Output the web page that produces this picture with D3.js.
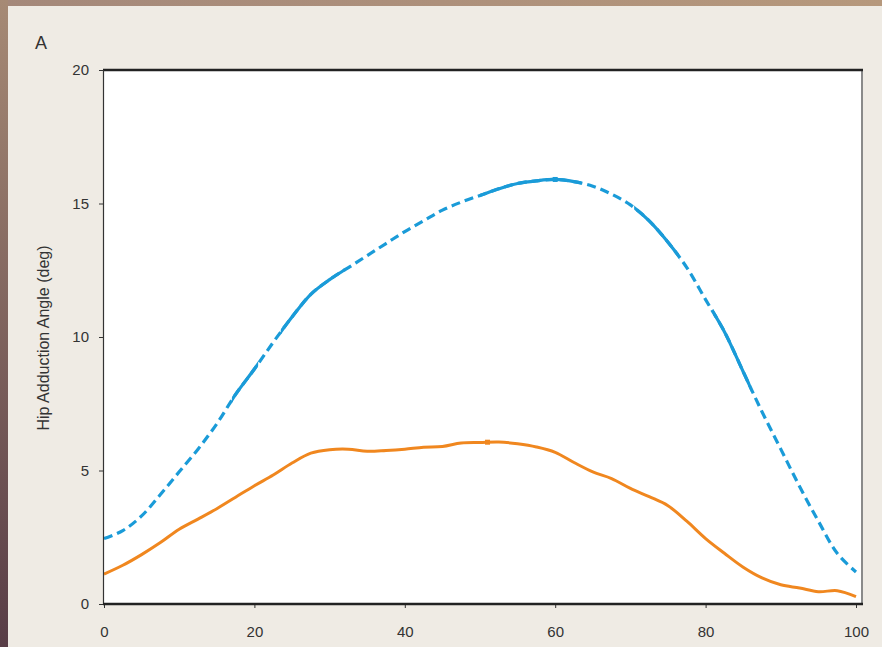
<!DOCTYPE html>
<html>
<head>
<meta charset="utf-8">
<script src="https://cdn.jsdelivr.net/npm/d3@7"></script>
<style>
  html, body { margin: 0; padding: 0; background: #efebe4; }
  svg { display: block; }
</style>
</head>
<body>
<svg id="chart" width="882" height="647"></svg>
<script>
// ---- data ----
const gaitCycle = [0, 2.5, 5, 7.5, 10, 12.5, 15, 17.5, 20, 22.5, 25, 27.5, 30, 32.5, 35, 37.5, 40, 42.5, 45, 47.5, 50,
                   52.5, 55, 57.5, 60, 62.5, 65, 67.5, 70, 72.5, 75, 77.5, 80, 82.5, 85, 87.5, 90, 92.5, 95, 97.5, 100];
const blueSeries = [2.45, 2.75, 3.3, 4.1, 4.95, 5.8, 6.75, 7.85, 8.8, 9.8, 10.75, 11.6, 12.15, 12.6, 13.05, 13.5, 13.95, 14.35, 14.75, 15.05, 15.3,
                    15.55, 15.75, 15.85, 15.9, 15.82, 15.65, 15.35, 14.95, 14.35, 13.55, 12.6, 11.4, 10.2, 8.7, 7.2, 5.8, 4.4, 3.1, 1.9, 1.2];
const orangeSeries = [1.12, 1.45, 1.85, 2.3, 2.8, 3.18, 3.57, 4.0, 4.43, 4.83, 5.28, 5.65, 5.78, 5.8, 5.72, 5.75, 5.8, 5.87, 5.9, 6.03, 6.05,
                      6.07, 6.0, 5.88, 5.68, 5.3, 4.95, 4.7, 4.33, 4.02, 3.68, 3.1, 2.45, 1.9, 1.38, 0.98, 0.72, 0.6, 0.46, 0.5, 0.28];
const blueSolidRanges = [[17, 20.5], [23.5, 32], [50, 63.5], [70.5, 76.5], [81, 86]];
const peakMarkers = [{x: 60, y: 15.9, s: "blue"}, {x: 51, y: 6.06, s: "orange"}];
const yTicks = [0, 5, 10, 15, 20];
const xTicks = [0, 20, 40, 60, 80, 100];
const yLabel = "Hip Adduction Angle (deg)";
const panelLabel = "A";

// ---- layout ----
const svg = d3.select("#chart");
const W = 882, H = 647;
const plot = {left: 103, right: 862, top: 70, bottom: 604};
const colors = {blue: "#1a9bd8", orange: "#f0871f"};
const font = "'Liberation Sans Narrow', 'Liberation Sans', Arial, sans-serif";

// frame decorations
const defs = svg.append("defs");
const lg = defs.append("linearGradient").attr("id", "leftGrad").attr("x1", 0).attr("y1", 0).attr("x2", 0).attr("y2", 1);
lg.append("stop").attr("offset", "0%").attr("stop-color", "#a68a75");
lg.append("stop").attr("offset", "100%").attr("stop-color", "#583d46");
const tg = defs.append("linearGradient").attr("id", "topGrad").attr("x1", 0).attr("y1", 0).attr("x2", 1).attr("y2", 0);
tg.append("stop").attr("offset", "0%").attr("stop-color", "#a4887a");
tg.append("stop").attr("offset", "100%").attr("stop-color", "#b6987c");

svg.append("rect").attr("x", 0).attr("y", 0).attr("width", W).attr("height", H).attr("fill", "#efebe4");
svg.append("rect").attr("x", 0).attr("y", 0).attr("width", W).attr("height", 6).attr("fill", "url(#topGrad)");
svg.append("rect").attr("x", 0).attr("y", 0).attr("width", 8).attr("height", H).attr("fill", "url(#leftGrad)");

// scales
const x = d3.scaleLinear().domain([0, 100]).range([104, 856]);
const y = d3.scaleLinear().domain([0, 20]).range([plot.bottom, plot.top]);

// plot background
svg.append("rect").attr("x", plot.left).attr("y", plot.top)
  .attr("width", plot.right - plot.left).attr("height", plot.bottom - plot.top).attr("fill", "#ffffff");

// clip for solid parts
blueSolidRanges.forEach((r, i) => {
  defs.append("clipPath").attr("id", "solid" + i)
    .append("rect").attr("x", x(r[0])).attr("y", plot.top - 10)
    .attr("width", x(r[1]) - x(r[0])).attr("height", plot.bottom - plot.top + 20);
});

const line = d3.line().x(d => x(d[0])).y(d => y(d[1])).curve(d3.curveCatmullRom.alpha(0.5));
const blueData = gaitCycle.map((g, i) => [g, blueSeries[i]]);
const orangeData = gaitCycle.map((g, i) => [g, orangeSeries[i]]);

svg.append("path").datum(orangeData).attr("d", line)
  .attr("fill", "none").attr("stroke", colors.orange).attr("stroke-width", 3).attr("stroke-linejoin", "round");

svg.append("path").datum(blueData).attr("d", line)
  .attr("fill", "none").attr("stroke", colors.blue).attr("stroke-width", 3.2)
  .attr("stroke-dasharray", "9,5");

blueSolidRanges.forEach((r, i) => {
  svg.append("path").datum(blueData).attr("d", line)
    .attr("clip-path", "url(#solid" + i + ")")
    .attr("fill", "none").attr("stroke", colors.blue).attr("stroke-width", 3.2);
});

svg.selectAll("rect.marker").data(peakMarkers).enter().append("rect")
  .attr("class", "marker")
  .attr("x", d => x(d.x) - 2.5).attr("y", d => y(d.y) - 2.5)
  .attr("width", 5).attr("height", 5)
  .attr("fill", d => colors[d.s]);

// plot borders
svg.append("line").attr("x1", plot.right).attr("x2", plot.right).attr("y1", plot.top).attr("y2", plot.bottom)
  .attr("stroke", "#8a8a8a").attr("stroke-width", 2);
svg.append("line").attr("x1", plot.left).attr("x2", plot.right + 1).attr("y1", plot.top).attr("y2", plot.top)
  .attr("stroke", "#222").attr("stroke-width", 2.5);

// axes
const yAxis = d3.axisLeft(y).tickValues(yTicks).tickSize(4).tickPadding(10).tickFormat(d3.format("d"));
const gy = svg.append("g").attr("transform", `translate(${plot.left},0)`).call(yAxis);
gy.select(".domain").attr("stroke", "#333").attr("stroke-width", 1.2);
gy.selectAll(".tick line").attr("stroke", "#333");
gy.selectAll(".tick text").attr("font-family", font).attr("font-size", 15).attr("fill", "#333");

const xAxis = d3.axisBottom(x).tickValues(xTicks).tickSize(4).tickPadding(18).tickFormat(d3.format("d"));
const gx = svg.append("g").attr("transform", `translate(0,${plot.bottom})`).call(xAxis);
gx.select(".domain").remove();
gx.append("line").attr("x1", plot.left).attr("x2", plot.right + 1).attr("y1", 0).attr("y2", 0)
  .attr("stroke", "#222").attr("stroke-width", 2.5);
gx.selectAll(".tick line").attr("stroke", "#333");
gx.selectAll(".tick text").attr("font-family", font).attr("font-size", 15).attr("fill", "#333");

// labels
svg.append("text").attr("transform", `translate(49,338) rotate(-90)`)
  .attr("text-anchor", "middle").attr("font-family", font).attr("font-size", 16).attr("fill", "#333")
  .text(yLabel);
svg.append("text").attr("x", 35).attr("y", 49)
  .attr("font-family", font).attr("font-size", 18).attr("fill", "#333")
  .text(panelLabel);
</script>
</body>
</html>
